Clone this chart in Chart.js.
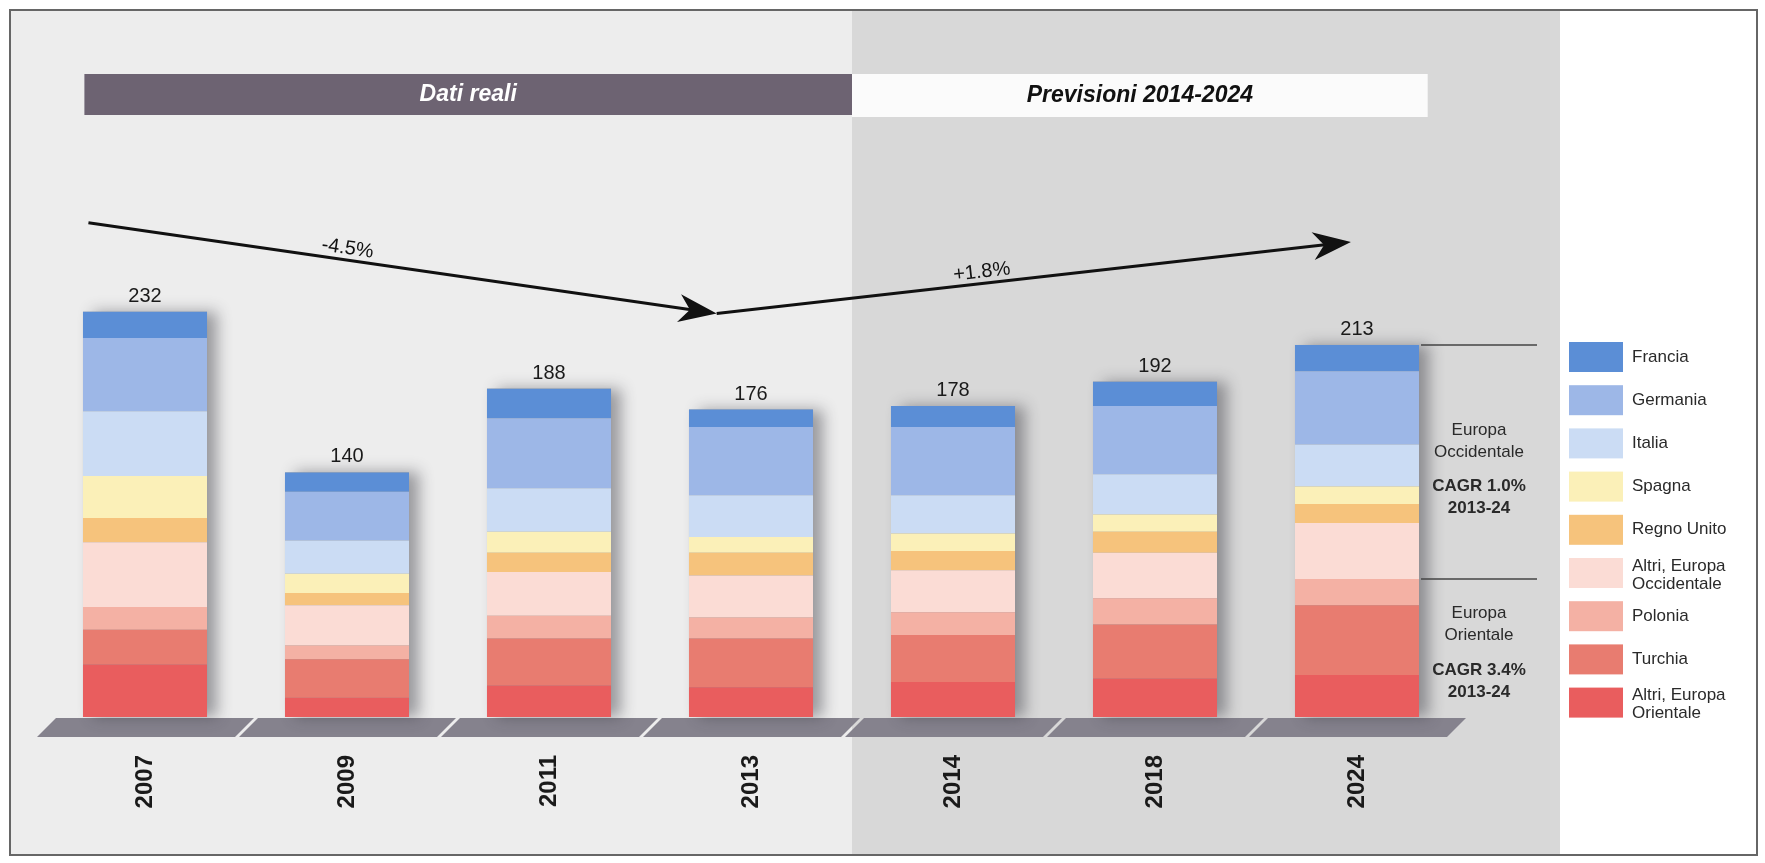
<!DOCTYPE html>
<html>
<head>
<meta charset="utf-8">
<script src="https://cdn.jsdelivr.net/npm/chart.js@4.4.1/dist/chart.umd.min.js"></script>
<style>
  html, body { margin: 0; padding: 0; background: #fff; }
  #wrap { position: relative; width: 1765px; height: 863px; }
</style>
</head>
<body>
<div id="wrap"><canvas id="chart"></canvas></div>
<script>
// years on the x axis
const years = ["2007", "2009", "2011", "2013", "2014", "2018", "2024"];

// stack values per country (top of the bar -> bottom)
const francia     = [15, 11, 17, 10, 12, 14, 15];
const germania    = [42, 28, 40, 39, 39, 39, 42];
const italia      = [37, 19, 25, 24, 22, 23, 24];
const spagna      = [24, 11, 12,  9, 10, 10, 10];
const regnoUnito  = [14,  7, 11, 13, 11, 12, 11];
const altriOcc    = [37, 23, 25, 24, 24, 26, 32];
const polonia     = [13,  8, 13, 12, 13, 15, 15];
const turchia     = [20, 22, 27, 28, 27, 31, 40];
const altriOr     = [30, 11, 18, 17, 20, 22, 24];

const seriesNames = ["Francia", "Germania", "Italia", "Spagna", "Regno Unito",
  "Altri, Europa Occidentale", "Polonia", "Turchia", "Altri, Europa Orientale"];
const seriesColors = ["#5b8ed6", "#9db7e7", "#cbdcf4", "#fbf0b8", "#f6c37c",
  "#fbdcd5", "#f4b1a4", "#e87c70", "#e95d5e"];
const seriesData = [francia, germania, italia, spagna, regnoUnito, altriOcc, polonia, turchia, altriOr];

const FONT = "'Liberation Sans', Arial, sans-serif";

// chart.js stacks the first dataset at the bottom, so reverse
const datasets = seriesNames.map((name, i) => ({
  label: name,
  data: seriesData[i],
  backgroundColor: seriesColors[i],
  borderWidth: 0
})).reverse();

const totals = years.map((_, i) => seriesData.reduce((s, d) => s + d[i], 0));

function splitX(chart) {
  const x = chart.scales.x;
  return (x.getPixelForValue(3) + x.getPixelForValue(4)) / 2;
}

// backgrounds, frame, banners
const backdrop = {
  id: "backdrop",
  beforeDraw(chart) {
    const { ctx, scales: { x } } = chart;
    const split = splitX(chart);
    ctx.save();
    ctx.fillStyle = "#ffffff";
    ctx.fillRect(0, 0, chart.width, chart.height);
    ctx.fillStyle = "#ededed";
    ctx.fillRect(10, 10, split - 10, 845);
    ctx.fillStyle = "#d8d8d8";
    ctx.fillRect(split, 10, 1560 - split, 845);
    ctx.strokeStyle = "#666";
    ctx.lineWidth = 2;
    ctx.strokeRect(10, 10, 1747, 845);

    const bx1 = x.getPixelForValue(-0.3);
    const bx2 = x.getPixelForValue(6.35);
    ctx.fillStyle = "#6d6372";
    ctx.fillRect(bx1, 74, split - bx1, 41);
    ctx.fillStyle = "#fbfbfb";
    ctx.fillRect(split, 74, bx2 - split, 43);
    ctx.font = "italic bold 23px " + FONT;
    ctx.textAlign = "center";
    ctx.textBaseline = "middle";
    ctx.fillStyle = "#ffffff";
    ctx.fillText("Dati reali", (bx1 + split) / 2, 95);
    ctx.fillStyle = "#111";
    ctx.fillText("Previsioni 2014-2024", (split + bx2) / 2, 96);
    ctx.restore();
  }
};

// base strip and bar shadows
const floor = {
  id: "floor",
  beforeDatasetsDraw(chart) {
    const { ctx, scales: { x, y } } = chart;
    const base = y.getPixelForValue(0);
    ctx.save();
    ctx.fillStyle = "#85828d";
    years.forEach((_, i) => {
      const L = x.getPixelForValue(i - 0.5);
      const R = x.getPixelForValue(i + 0.5);
      const t = base + 1, b = base + 20;
      ctx.beginPath();
      ctx.moveTo(L + 12, t);
      ctx.lineTo(R + 8, t);
      ctx.lineTo(R - 11, b);
      ctx.lineTo(L - 7, b);
      ctx.closePath();
      ctx.fill();
    });
    const top = chart.getDatasetMeta(chart.data.datasets.length - 1);
    ctx.shadowColor = "rgba(50,50,60,0.45)";
    ctx.shadowBlur = 14;
    ctx.shadowOffsetX = 10;
    ctx.fillStyle = "#999";
    top.data.forEach((bar, i) => {
      const yt = y.getPixelForValue(totals[i]);
      ctx.fillRect(bar.x - bar.width / 2, yt, bar.width, base - yt);
    });
    ctx.restore();
  }
};

function drawArrow(ctx, x1, y1, x2, y2) {
  const a = Math.atan2(y2 - y1, x2 - x1);
  ctx.beginPath();
  ctx.moveTo(x1, y1);
  ctx.lineTo(x2 - Math.cos(a) * 24, y2 - Math.sin(a) * 24);
  ctx.stroke();
  ctx.save();
  ctx.translate(x2, y2);
  ctx.rotate(a);
  ctx.beginPath();
  ctx.moveTo(0, 0);
  ctx.lineTo(-38, -14);
  ctx.lineTo(-27, 0);
  ctx.lineTo(-38, 14);
  ctx.closePath();
  ctx.fill();
  ctx.restore();
}

function lineLabel(ctx, text, x1, y1, x2, y2, t) {
  const a = Math.atan2(y2 - y1, x2 - x1);
  ctx.save();
  ctx.translate(x1 + (x2 - x1) * t, y1 + (y2 - y1) * t);
  ctx.rotate(a);
  ctx.textAlign = "center";
  ctx.textBaseline = "alphabetic";
  ctx.fillText(text, 0, -6);
  ctx.restore();
}

function wrapText(ctx, text, maxW) {
  const words = text.split(" ");
  const lines = [];
  let cur = "";
  words.forEach(w => {
    const test = cur ? cur + " " + w : w;
    if (cur && ctx.measureText(test).width > maxW) { lines.push(cur); cur = w; }
    else cur = test;
  });
  lines.push(cur);
  return lines;
}

const overlay = {
  id: "overlay",
  afterDraw(chart) {
    const { ctx, scales: { x, y } } = chart;
    const topMeta = chart.getDatasetMeta(chart.data.datasets.length - 1);
    ctx.save();

    // totals above bars
    ctx.font = "20px " + FONT;
    ctx.fillStyle = "#1a1a1a";
    ctx.textAlign = "center";
    ctx.textBaseline = "alphabetic";
    topMeta.data.forEach((bar, i) => {
      ctx.fillText(String(totals[i]), bar.x, y.getPixelForValue(totals[i]) - 10);
    });

    // trend arrows
    const ax1 = x.getPixelForValue(-0.28), ay1 = y.getPixelForValue(283);
    const ax2 = x.getPixelForValue(2.83), ay2 = y.getPixelForValue(231);
    const ax3 = x.getPixelForValue(5.97), ay3 = y.getPixelForValue(272);
    ctx.strokeStyle = "#111";
    ctx.fillStyle = "#111";
    ctx.lineWidth = 3;
    drawArrow(ctx, ax1, ay1, ax2, ay2);
    drawArrow(ctx, ax2, ay2, ax3, ay3);
    ctx.font = "20px " + FONT;
    lineLabel(ctx, "-4.5%", ax1, ay1, ax2, ay2, 0.41);
    lineLabel(ctx, "+1.8%", ax2, ay2, ax3, ay3, 0.42);

    // regional split markers beside the last bar
    const last = topMeta.data[years.length - 1];
    const lx1 = last.x + last.width / 2 + 2;
    const lx2 = 1537;
    const cx = (lx1 + lx2) / 2;
    const iLast = years.length - 1;
    const eastTotal = polonia[iLast] + turchia[iLast] + altriOr[iLast];
    const yTop = y.getPixelForValue(totals[iLast]);
    const ySplit = y.getPixelForValue(eastTotal);
    ctx.strokeStyle = "#444";
    ctx.lineWidth = 1.5;
    ctx.beginPath();
    ctx.moveTo(lx1, yTop); ctx.lineTo(lx2, yTop);
    ctx.moveTo(lx1, ySplit); ctx.lineTo(lx2, ySplit);
    ctx.stroke();

    ctx.fillStyle = "#2a2a2a";
    ctx.textBaseline = "middle";
    ctx.font = "17px " + FONT;
    ctx.fillText("Europa", cx, 430);
    ctx.fillText("Occidentale", cx, 452);
    ctx.fillText("Europa", cx, 613);
    ctx.fillText("Orientale", cx, 635);
    ctx.font = "bold 17px " + FONT;
    ctx.fillText("CAGR 1.0%", cx, 486);
    ctx.fillText("2013-24", cx, 508);
    ctx.fillText("CAGR 3.4%", cx, 670);
    ctx.fillText("2013-24", cx, 692);

    // legend
    ctx.font = "17px " + FONT;
    ctx.textAlign = "left";
    seriesNames.forEach((name, i) => {
      const sy = 342 + i * 43.2;
      ctx.fillStyle = seriesColors[i];
      ctx.fillRect(1569, sy, 54, 30);
      ctx.fillStyle = "#2a2a2a";
      const lines = wrapText(ctx, name, 112);
      const mid = sy + 15 + (lines.length > 1 ? 2 : 0);
      lines.forEach((ln, k) => {
        ctx.fillText(ln, 1632, mid + (k - (lines.length - 1) / 2) * 18);
      });
    });
    ctx.restore();
  }
};

new Chart(document.getElementById("chart"), {
  type: "bar",
  data: { labels: years, datasets: datasets },
  options: {
    responsive: true,
    maintainAspectRatio: false,
    animation: false,
    layout: { padding: { top: 193, left: 44, right: 307, bottom: 0 } },
    datasets: { bar: { categoryPercentage: 1, barPercentage: 0.614 } },
    plugins: { legend: { display: false }, tooltip: { enabled: false } },
    scales: {
      x: {
        stacked: true,
        grid: { display: false, drawTicks: false },
        border: { display: false },
        ticks: {
          minRotation: 90,
          maxRotation: 90,
          padding: 38,
          color: "#1a1a1a",
          font: { family: FONT, size: 24, weight: "bold" }
        },
        afterFit(axis) { axis.height = 146; }
      },
      y: {
        stacked: true,
        display: false,
        min: 0,
        max: 300
      }
    }
  },
  plugins: [backdrop, floor, overlay]
});
</script>
</body>
</html>
